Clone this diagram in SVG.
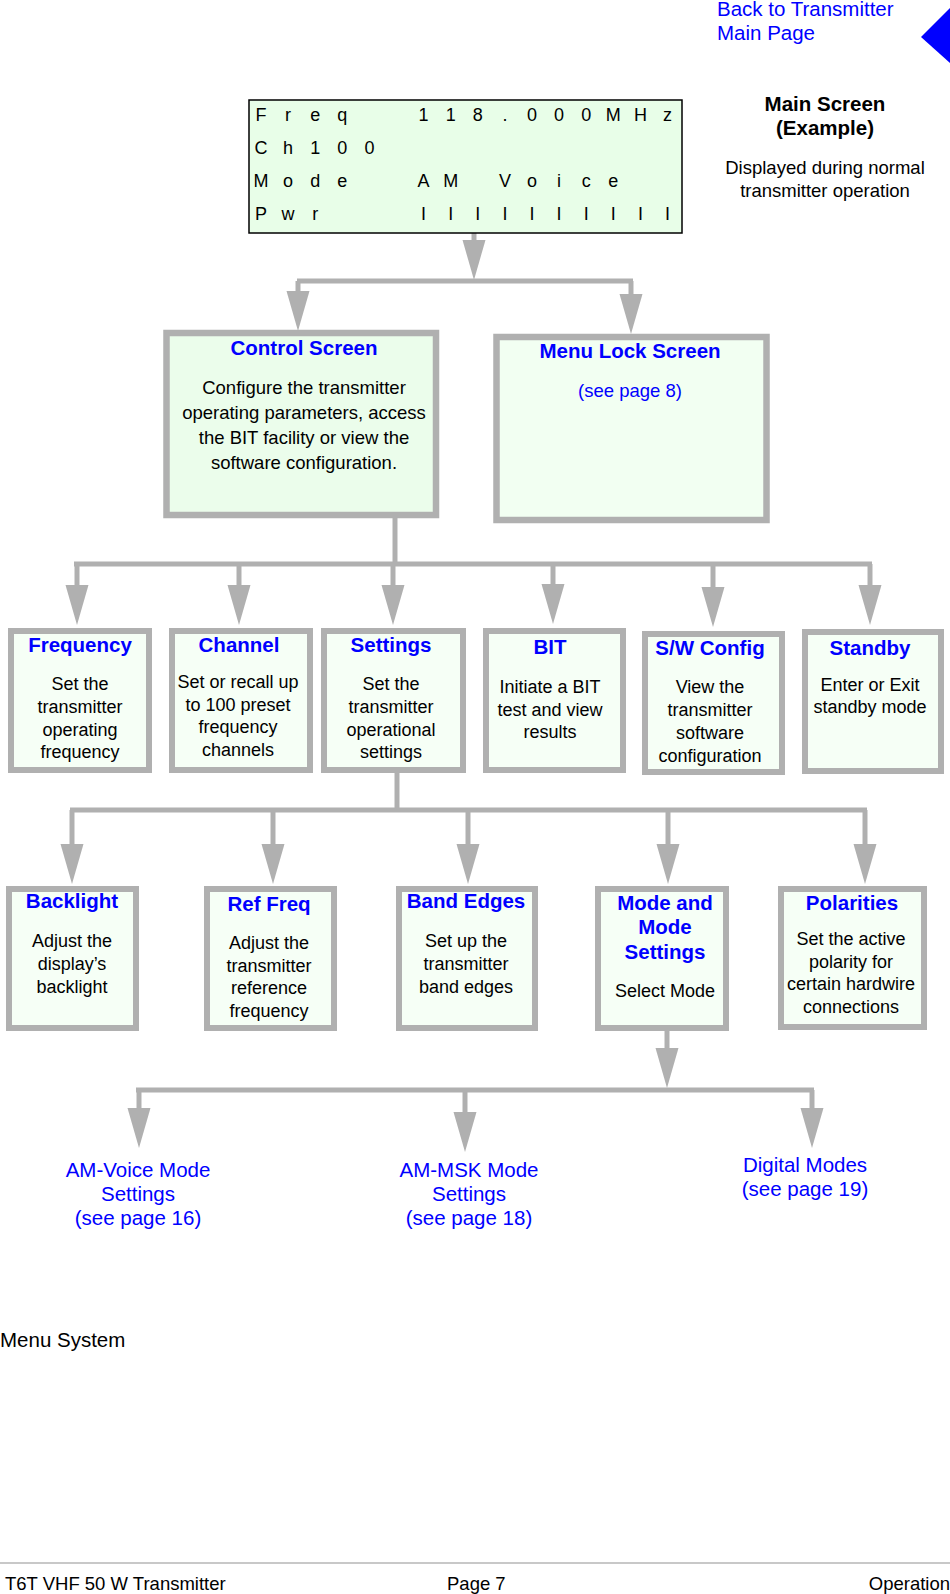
<svg xmlns="http://www.w3.org/2000/svg" width="950" height="1594" viewBox="0 0 950 1594">
<style>
text{font-family:"Liberation Sans",Arial,Helvetica,sans-serif}
.box{stroke:#b0b0b0;stroke-width:6;fill:#f6fff6}
.ttl{font-size:20.5px;font-weight:bold;fill:#0000ff;text-anchor:middle}
.bd{font-size:18px;fill:#000;text-anchor:middle}
.lnk{font-size:20.5px;fill:#0000ff;text-anchor:middle}
.lcd{font-size:18px;fill:#000;text-anchor:middle;white-space:pre}
.con{fill:none;stroke:#b0b0b0;stroke-width:5}
.arr{marker-end:url(#ah)}
.ft{font-size:18.5px;fill:#000}
</style>
<defs>
<marker id="ah" markerUnits="userSpaceOnUse" markerWidth="40" markerHeight="23" refX="0" refY="11.5" orient="auto" overflow="visible">
<path d="M0,0 L40,11.5 L0,23 z" fill="#b0b0b0"/>
</marker>
</defs>
<rect width="950" height="1594" fill="#fff"/>

<g id="back-link">
<text class="lnk" x="717" y="16" style="text-anchor:start">Back to Transmitter</text>
<text class="lnk" x="717" y="40" style="text-anchor:start">Main Page</text>
<polygon points="921,37 950,8 950,63" fill="#0000ff"/>
</g>

<g id="connectors">
<path class="con arr" d="M474,233 V240"/>
<path class="con" d="M297,281 H633"/>
<path class="con arr" d="M298,281 V291"/>
<path class="con arr" d="M631,281 V294"/>

<path class="con" d="M395,518 V564"/>
<path class="con" d="M74,564 H872"/>
<path class="con arr" d="M77,564 V585"/>
<path class="con arr" d="M239,564 V585"/>
<path class="con arr" d="M393,564 V585"/>
<path class="con arr" d="M553,564 V584"/>
<path class="con arr" d="M713,564 V587"/>
<path class="con arr" d="M870,564 V585"/>

<path class="con" d="M397,773 V810"/>
<path class="con" d="M70,810 H867"/>
<path class="con arr" d="M72,810 V844"/>
<path class="con arr" d="M273,810 V844"/>
<path class="con arr" d="M468,810 V844"/>
<path class="con arr" d="M668,810 V844"/>
<path class="con arr" d="M865,810 V844"/>

<path class="con arr" d="M667,1031 V1048"/>
<path class="con" d="M136,1090 H814"/>
<path class="con arr" d="M139,1090 V1108"/>
<path class="con arr" d="M465,1090 V1112"/>
<path class="con arr" d="M812,1090 V1108"/>
</g>

<g id="main-screen">
<rect x="249" y="100" width="433" height="133" fill="#e8fee8" stroke="#000" stroke-width="1.5"/>
<text class="lcd" xml:space="preserve" x="261 288.1 315.2 342.3 369.4 396.5 423.6 450.7 477.8 504.9 532 559.1 586.2 613.3 640.4 667.5" y="121">Freq  118.000MHz</text>
<text class="lcd" xml:space="preserve" x="261 288.1 315.2 342.3 369.4" y="154">Ch100</text>
<text class="lcd" xml:space="preserve" x="261 288.1 315.2 342.3 369.4 396.5 423.6 450.7 477.8 504.9 532 559.1 586.2 613.3" y="187">Mode  AM Voice</text>
<text class="lcd" xml:space="preserve" x="261 288.1 315.2 342.3 369.4 396.5 423.6 450.7 477.8 504.9 532 559.1 586.2 613.3 640.4 667.5" y="220">Pwr   IIIIIIIIII</text>
</g>

<g id="main-screen-label">
<text x="825" y="111" style="font-size:20.5px;font-weight:bold;text-anchor:middle">Main Screen</text>
<text x="825" y="135" style="font-size:20.5px;font-weight:bold;text-anchor:middle">(Example)</text>
<text class="bd" x="825" y="174" style="font-size:18.5px">Displayed during normal</text>
<text class="bd" x="825" y="197" style="font-size:18.5px">transmitter operation</text>
</g>

<g id="control-screen">
<rect class="box" x="166.5" y="333" width="269.5" height="182" style="fill:#ebfdeb;stroke-width:6.5"/>
<text class="ttl" x="304" y="355">Control Screen</text>
<text class="bd" x="304" y="394" style="font-size:18.5px">Configure the transmitter</text>
<text class="bd" x="304" y="419" style="font-size:18.5px">operating parameters, access</text>
<text class="bd" x="304" y="444" style="font-size:18.5px">the BIT facility or view the</text>
<text class="bd" x="304" y="469" style="font-size:18.5px">software configuration.</text>
</g>

<g id="menu-lock-screen">
<rect class="box" x="496.5" y="337" width="270" height="183" style="fill:#f2fff2;stroke-width:6.5"/>
<text class="ttl" x="630" y="358">Menu Lock Screen</text>
<text class="lnk" x="630" y="397" style="font-size:18.5px">(see page 8)</text>
</g>

<g id="frequency">
<rect class="box" x="11" y="631" width="138" height="139"/>
<text class="ttl" x="80" y="652">Frequency</text>
<text class="bd" x="80" y="690">Set the</text>
<text class="bd" x="80" y="713">transmitter</text>
<text class="bd" x="80" y="736">operating</text>
<text class="bd" x="80" y="758">frequency</text>
</g>

<g id="channel">
<rect class="box" x="172" y="631" width="138" height="139"/>
<text class="ttl" x="239" y="652">Channel</text>
<text class="bd" x="238" y="688">Set or recall up</text>
<text class="bd" x="238" y="711">to 100 preset</text>
<text class="bd" x="238" y="733">frequency</text>
<text class="bd" x="238" y="756">channels</text>
</g>

<g id="settings">
<rect class="box" x="324" y="631" width="139" height="139"/>
<text class="ttl" x="391" y="652">Settings</text>
<text class="bd" x="391" y="690">Set the</text>
<text class="bd" x="391" y="713">transmitter</text>
<text class="bd" x="391" y="736">operational</text>
<text class="bd" x="391" y="758">settings</text>
</g>

<g id="bit">
<rect class="box" x="486" y="631" width="137" height="139"/>
<text class="ttl" x="550" y="654">BIT</text>
<text class="bd" x="550" y="693">Initiate a BIT</text>
<text class="bd" x="550" y="716">test and view</text>
<text class="bd" x="550" y="738">results</text>
</g>

<g id="sw-config">
<rect class="box" x="645" y="634" width="137" height="138"/>
<text class="ttl" x="710" y="655">S/W Config</text>
<text class="bd" x="710" y="693">View the</text>
<text class="bd" x="710" y="716">transmitter</text>
<text class="bd" x="710" y="739">software</text>
<text class="bd" x="710" y="762">configuration</text>
</g>

<g id="standby">
<rect class="box" x="805" y="632" width="136" height="139"/>
<text class="ttl" x="870" y="655">Standby</text>
<text class="bd" x="870" y="691">Enter or Exit</text>
<text class="bd" x="870" y="713">standby mode</text>
</g>

<g id="backlight">
<rect class="box" x="9" y="889" width="127" height="139"/>
<text class="ttl" x="72" y="908">Backlight</text>
<text class="bd" x="72" y="947">Adjust the</text>
<text class="bd" x="72" y="970">display’s</text>
<text class="bd" x="72" y="993">backlight</text>
</g>

<g id="ref-freq">
<rect class="box" x="207" y="889" width="127" height="139"/>
<text class="ttl" x="269" y="911">Ref Freq</text>
<text class="bd" x="269" y="949">Adjust the</text>
<text class="bd" x="269" y="972">transmitter</text>
<text class="bd" x="269" y="994">reference</text>
<text class="bd" x="269" y="1017">frequency</text>
</g>

<g id="band-edges">
<rect class="box" x="399" y="889" width="136" height="139"/>
<text class="ttl" x="466" y="908">Band Edges</text>
<text class="bd" x="466" y="947">Set up the</text>
<text class="bd" x="466" y="970">transmitter</text>
<text class="bd" x="466" y="993">band edges</text>
</g>

<g id="mode-settings">
<rect class="box" x="598" y="889" width="128" height="139"/>
<text class="ttl" x="665" y="910">Mode and</text>
<text class="ttl" x="665" y="934">Mode</text>
<text class="ttl" x="665" y="959">Settings</text>
<text class="bd" x="665" y="997">Select Mode</text>
</g>

<g id="polarities">
<rect class="box" x="781" y="889" width="143" height="138"/>
<text class="ttl" x="852" y="910">Polarities</text>
<text class="bd" x="851" y="945">Set the active</text>
<text class="bd" x="851" y="968">polarity for</text>
<text class="bd" x="851" y="990">certain hardwire</text>
<text class="bd" x="851" y="1013">connections</text>
</g>

<g id="am-voice">
<text class="lnk" x="138" y="1177">AM-Voice Mode</text>
<text class="lnk" x="138" y="1201">Settings</text>
<text class="lnk" x="138" y="1225">(see page 16)</text>
</g>

<g id="am-msk">
<text class="lnk" x="469" y="1177">AM-MSK Mode</text>
<text class="lnk" x="469" y="1201">Settings</text>
<text class="lnk" x="469" y="1225">(see page 18)</text>
</g>

<g id="digital-modes">
<text class="lnk" x="805" y="1172">Digital Modes</text>
<text class="lnk" x="805" y="1196">(see page 19)</text>
</g>

<text x="0" y="1347" style="font-size:20.5px">Menu System</text>

<g id="footer">
<line x1="0" y1="1563" x2="950" y2="1563" stroke="#c8c8c8" stroke-width="2"/>
<text class="ft" x="5" y="1590">T6T VHF 50 W Transmitter</text>
<text class="ft" x="447" y="1590">Page 7</text>
<text class="ft" x="950" y="1590" style="text-anchor:end">Operation</text>
</g>
</svg>
